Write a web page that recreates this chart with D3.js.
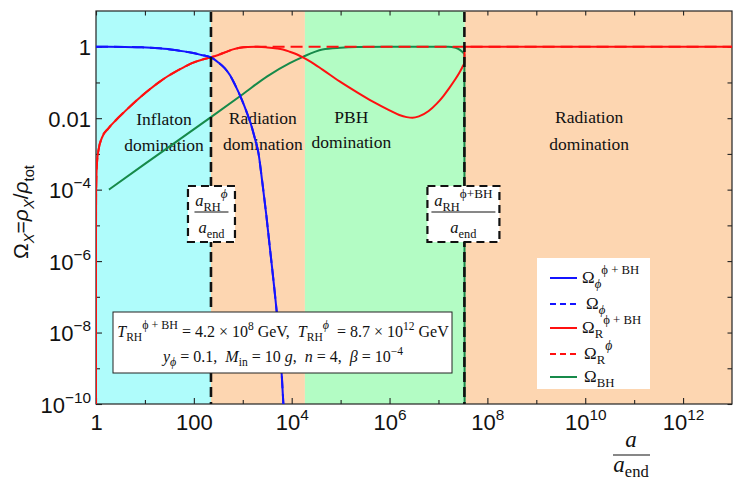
<!DOCTYPE html>
<html>
<head>
<meta charset="utf-8">
<script src="https://cdn.jsdelivr.net/npm/d3@7"></script>
<style>
  body { margin: 0; background: #fff; }
  svg { display: block; }
  text { white-space: pre; }
</style>
</head>
<body>
<svg id="chart" width="737" height="483"></svg>
<script>
// ---------------- data: log10(a/a_end) and log10(Ω) ----------------
// Ω_φ with PBHs (solid blue) and without (dashed blue)
const omegaPhiBH_loga = [0, 0.59, 0.94, 1.29, 1.61, 1.8, 1.96, 2.15, 2.35, 2.5, 2.63, 2.74, 2.84, 2.98, 3.08, 3.18, 3.25, 3.32, 3.40, 3.48, 3.56, 3.64, 3.72, 3.78, 3.83, 3.86];
const omegaPhiBH_log  = [0, -0.006, -0.018, -0.046, -0.09, -0.13, -0.17, -0.23, -0.30, -0.44, -0.60, -0.80, -1.06, -1.48, -1.83, -2.23, -2.58, -2.97, -3.8, -4.7, -5.7, -6.7, -7.8, -8.8, -10.0, -10.8];
const omegaPhi_loga = omegaPhiBH_loga;
const omegaPhi_log  = omegaPhiBH_log;

// Ω_R with PBHs (solid red)
const omegaRBH_loga = [0, 0.00001, 0.0002, 0.002, 0.02, 0.05, 0.12, 0.25, 0.4, 0.59, 0.8, 0.94, 1.1, 1.29, 1.45, 1.61, 1.8, 1.96, 2.15, 2.35, 2.5, 2.65, 2.8, 2.94, 3.1, 3.3, 3.5, 3.7, 3.82, 3.96, 4.1, 4.22, 4.4, 4.63, 4.98, 5.33, 5.65, 6.0, 6.2, 6.35, 6.47, 6.6, 6.8, 6.96, 7.1, 7.22, 7.33, 7.43, 7.5, 7.53, 7.535, 13];
const omegaRBH_log  = [-11, -7.5, -5.0, -4.1, -3.25, -2.9, -2.55, -2.29, -2.065, -1.81, -1.54, -1.37, -1.19, -0.99, -0.84, -0.71, -0.57, -0.46, -0.37, -0.295, -0.23, -0.15, -0.075, -0.03, -0.008, -0.003, -0.02, -0.05, -0.08, -0.14, -0.21, -0.29, -0.43, -0.64, -0.97, -1.27, -1.53, -1.78, -1.91, -1.97, -1.99, -1.95, -1.80, -1.60, -1.38, -1.16, -0.94, -0.72, -0.54, -0.44, 0, 0];

// Ω_R without PBHs (dashed red)
const omegaR_loga = [0, 0.00001, 0.0002, 0.002, 0.02, 0.05, 0.12, 0.25, 0.4, 0.59, 0.8, 0.94, 1.1, 1.29, 1.45, 1.61, 1.8, 1.96, 2.15, 2.35, 2.5, 2.65, 2.8, 2.94, 3.1, 3.3, 13];
const omegaR_log  = [-11, -7.5, -5.0, -4.1, -3.25, -2.9, -2.55, -2.29, -2.065, -1.81, -1.54, -1.37, -1.19, -0.99, -0.84, -0.71, -0.57, -0.46, -0.37, -0.295, -0.23, -0.15, -0.075, -0.03, -0.008, 0, 0];

// Ω_BH (green)
const omegaBH_loga = [0.265, 1.0, 2.35, 3.0, 3.5, 3.96, 4.22, 4.63, 5.0, 5.33, 6.0, 7.2, 7.35, 7.43, 7.5, 7.53, 7.535];
const omegaBH_log  = [-4, -3.28, -1.97, -1.33, -0.83, -0.46, -0.29, -0.08, -0.03, -0.01, 0, -0.002, -0.03, -0.08, -0.16, -0.22, -10.5];

// epochs (log10 a boundaries) and reheating markers
const eraStart = [0, 2.35, 4.27, 7.54];
const eraEnd   = [2.35, 4.27, 7.54, 13];
const eraTitles = [["Inflaton", "domination"], ["Radiation", "domination"], ["PBH", "domination"], ["Radiation", "domination"]];
const reheatExp = [2.35, 7.53];

// axis ticks
const xLabelExps = [0, 2, 4, 6, 8, 10, 12];
const xLabels = [["1"], ["100"], ["10", "4"], ["10", "6"], ["10", "8"], ["10", "10"], ["10", "12"]];
const xMinorExps = [1, 3, 5, 7, 9, 11];
const yLabelExps = [0, -2, -4, -6, -8, -10];
const yLabels = [["1"], ["0.01"], ["10", "\u22124"], ["10", "\u22126"], ["10", "\u22128"], ["10", "\u221210"]];
const yMinorExps = [-1, -3, -5, -7, -9];

// ---------------- layout ----------------
const X0 = 96, X1 = 732, Y0 = 11, Y1 = 404;
const SERIF = "'Liberation Serif','Times New Roman',serif";
const SANS = "'Liberation Sans',Arial,sans-serif";
const eraColors = ["#affcfb", "#fdd6b1", "#b3fcc4", "#fdd6b1"];
const C = { blue: "#1414ff", red: "#ff1010", green: "#168a4a", ink: "#111" };

const P = e => Math.pow(10, e);
const x = d3.scaleLog().domain([1, 1e13]).range([X0, X1]);
const y = d3.scaleLog().domain([1e-10, 1e1]).range([Y1, Y0]);

const svg = d3.select("#chart");
svg.append("defs").append("clipPath").attr("id", "plotClip")
  .append("rect").attr("x", X0).attr("y", Y0).attr("width", X1 - X0).attr("height", Y1 - Y0);

// rich text: segments [text, {i, pos:'sub'|'sup', d, k}]
function rich(textSel, segs, size) {
  let shift = 0;
  segs.forEach(seg => {
    const t = seg[0], o = seg[1] || {};
    const k = o.pos ? (o.k || 0.7) : 1;
    const target = o.pos === "sub" ? size * (o.d ?? 0.28) : o.pos === "sup" ? -size * (o.d ?? 0.42) : 0;
    const ts = textSel.append("tspan").text(t).attr("font-size", size * k);
    if (target - shift !== 0) ts.attr("dy", target - shift);
    if (o.i) ts.attr("font-style", "italic");
    shift = target;
  });
  return textSel;
}

// ---------------- background epochs ----------------
const eras = eraStart.map((s, i) => ({ s, e: eraEnd[i], c: eraColors[i], t: eraTitles[i] }));
svg.append("g").attr("clip-path", "url(#plotClip)")
  .selectAll("rect").data(eras).join("rect")
  .attr("x", d => x(P(d.s))).attr("width", d => x(P(d.e)) - x(P(d.s)))
  .attr("y", Y0).attr("height", Y1 - Y0).attr("fill", d => d.c);

// epoch titles
const eraTitleX = [1.39, 3.41, 5.22, 10.08];
const eraTitleY = [[125, 151], [124, 150], [123, 148], [123, 150]];
eras.forEach((d, i) => {
  d.t.forEach((line, j) => {
    svg.append("text").attr("x", x(P(eraTitleX[i]))).attr("y", eraTitleY[i][j])
      .attr("text-anchor", "middle").attr("font-family", SERIF).attr("font-size", 17.5)
      .attr("fill", "#111").text(line);
  });
});

// ---------------- frame and ticks ----------------
svg.append("rect").attr("x", X0).attr("y", Y0).attr("width", X1 - X0).attr("height", Y1 - Y0)
  .attr("fill", "none").attr("stroke", "#222").attr("stroke-width", 1.2);

function ticks(axis, values, size, tx) {
  const g = svg.append("g").attr("transform", tx)
    .call(axis.tickValues(values).tickSizeInner(-size).tickSizeOuter(0).tickFormat(() => ""));
  g.select(".domain").remove();
  g.selectAll(".tick line").attr("stroke", "#222").attr("stroke-width", 1.1);
  g.selectAll(".tick text").remove();
  return g;
}
const xMaj = ticks(d3.axisBottom(x), xLabelExps.map(P), 6, `translate(0,${Y1})`);
ticks(d3.axisBottom(x), xMinorExps.map(P), 4, `translate(0,${Y1})`);
ticks(d3.axisTop(x), xLabelExps.concat(xMinorExps).map(P), 4.5, `translate(0,${Y0})`);
const yMaj = ticks(d3.axisLeft(y), yLabelExps.map(P), 6, `translate(${X0},0)`);
ticks(d3.axisLeft(y), yMinorExps.map(P), 4, `translate(${X0},0)`);
ticks(d3.axisRight(y), yLabelExps.concat(yMinorExps).map(P), 4.5, `translate(${X1},0)`);

const TICK_FS = 22;
xMaj.selectAll(".tick").each(function (d, i) {
  const lab = xLabels[i];
  const t = d3.select(this).append("text").attr("y", 26).attr("text-anchor", "middle")
    .attr("font-family", SANS).attr("fill", "#111");
  rich(t, lab.length > 1 ? [[lab[0]], [lab[1], { pos: "sup", d: 0.45 }]] : [[lab[0]]], TICK_FS);
});
yMaj.selectAll(".tick").each(function (d, i) {
  const lab = yLabels[i];
  const t = d3.select(this).append("text").attr("x", -5).attr("y", 8).attr("text-anchor", "end")
    .attr("font-family", SANS).attr("fill", "#111");
  rich(t, lab.length > 1 ? [[lab[0]], [lab[1], { pos: "sup", d: 0.45 }]] : [[lab[0]]], TICK_FS);
});

// ---------------- curves ----------------
const line = d3.line().x(d => x(P(d[0]))).y(d => y(P(d[1]))).curve(d3.curveMonotoneX);
const pts = (a, o) => a.map((v, i) => [v, o[i]]);
const series = [
  { a: omegaBH_loga, o: omegaBH_log, c: C.green, dash: null },
  { a: omegaRBH_loga, o: omegaRBH_log, c: C.red, dash: null },
  { a: omegaR_loga, o: omegaR_log, c: C.red, dash: "12,6" },
  { a: omegaPhiBH_loga, o: omegaPhiBH_log, c: C.blue, dash: null },
  { a: omegaPhi_loga, o: omegaPhi_log, c: C.blue, dash: "12,6" }
];
const curveG = svg.append("g").attr("clip-path", "url(#plotClip)");
series.forEach(s => {
  curveG.append("path").attr("d", line(pts(s.a, s.o))).attr("fill", "none")
    .attr("stroke", s.c).attr("stroke-width", 2).attr("stroke-dasharray", s.dash)
    .attr("stroke-linejoin", "round");
});

// reheating markers
reheatExp.forEach(e => {
  svg.append("line").attr("x1", x(P(e))).attr("x2", x(P(e))).attr("y1", Y0 + 1).attr("y2", Y1)
    .attr("stroke", C.ink).attr("stroke-width", 2.6).attr("stroke-dasharray", "10,5");
});

// fraction boxes at the reheating scales
function fracBox(e, w, numSegs, lineW) {
  const cx = x(P(e)) + 0.5;
  svg.append("rect").attr("x", cx - w / 2).attr("y", 186).attr("width", w).attr("height", 56)
    .attr("fill", "#fff").attr("stroke", C.ink).attr("stroke-width", 2.2).attr("stroke-dasharray", "8,5");
  rich(svg.append("text").attr("x", cx).attr("y", 206).attr("text-anchor", "middle")
    .attr("font-family", SERIF).attr("fill", "#111"), numSegs, 16.5);
  svg.append("line").attr("x1", cx - lineW / 2).attr("x2", cx + lineW / 2).attr("y1", 212).attr("y2", 212)
    .attr("stroke", "#111").attr("stroke-width", 1);
  rich(svg.append("text").attr("x", cx).attr("y", 233).attr("text-anchor", "middle")
    .attr("font-family", SERIF).attr("fill", "#111"), [["a", { i: true }], ["end", { pos: "sub", k: 0.75 }]], 16.5);
}
fracBox(reheatExp[0], 47, [["a", { i: true }], ["RH", { pos: "sub", k: 0.75 }], ["\u03d5", { pos: "sup", i: true, d: 0.5, k: 0.8 }]], 34);
fracBox(reheatExp[1] - 0.03, 72, [["a", { i: true }], ["RH", { pos: "sub", k: 0.75 }], ["\u03d5+BH", { pos: "sup", d: 0.5, k: 0.8 }]], 64);

// parameter box
svg.append("rect").attr("x", 113).attr("y", 312).attr("width", 339).attr("height", 61)
  .attr("fill", "#fff").attr("stroke", "#222").attr("stroke-width", 1);
rich(svg.append("text").attr("x", 283).attr("y", 337).attr("text-anchor", "middle")
  .attr("font-family", SERIF).attr("fill", "#111"), [
  ["T", { i: true }], ["RH", { pos: "sub", k: 0.72 }], ["\u03d5 + BH", { pos: "sup", d: 0.5, k: 0.75 }],
  [" = 4.2 \u00d7 10"], ["8", { pos: "sup", k: 0.72 }], [" GeV,  "],
  ["T", { i: true }], ["RH", { pos: "sub", k: 0.72 }], ["\u03d5", { pos: "sup", i: true, d: 0.5, k: 0.75 }],
  ["  = 8.7 \u00d7 10"], ["12", { pos: "sup", k: 0.72 }], [" GeV"]
], 16);
rich(svg.append("text").attr("x", 283).attr("y", 362).attr("text-anchor", "middle")
  .attr("font-family", SERIF).attr("fill", "#111"), [
  ["y", { i: true }], ["\u03d5", { pos: "sub", i: true, k: 0.75 }], [" = 0.1,  "],
  ["M", { i: true }], ["in", { pos: "sub", k: 0.72 }], [" = 10 "], ["g", { i: true }], [",  "],
  ["n", { i: true }], [" = 4,  "], ["\u03b2", { i: true }], [" = 10"], ["\u22124", { pos: "sup", k: 0.72 }]
], 16);

// legend
const legendItems = [
  { c: C.blue, dash: null, segs: [["\u03a9"], ["\u03d5", { pos: "sub", i: true, k: 0.75 }], ["\u03d5 + BH", { pos: "sup", d: 0.55, k: 0.75 }]] },
  { c: C.blue, dash: "6,4", segs: [["\u03a9"], ["\u03d5", { pos: "sub", i: true, k: 0.75 }]], dx: 4 },
  { c: C.red, dash: null, segs: [["\u03a9"], ["R", { pos: "sub", k: 0.75 }], ["\u03d5 + BH", { pos: "sup", d: 0.55, k: 0.75 }]] },
  { c: C.red, dash: "6,4", segs: [["\u03a9"], ["R", { pos: "sub", k: 0.75 }], ["\u03d5", { pos: "sup", i: true, d: 0.55, k: 0.8 }]], dx: 2 },
  { c: C.green, dash: null, segs: [["\u03a9"], ["BH", { pos: "sub", k: 0.75 }]], dx: 2 }
];
const legendY = [278, 304, 328, 354, 377];
svg.append("rect").attr("x", 537).attr("y", 258).attr("width", 113).attr("height", 131).attr("fill", "#fff");
legendItems.forEach((it, i) => {
  const ly = legendY[i];
  svg.append("line").attr("x1", 550).attr("x2", 577).attr("y1", ly).attr("y2", ly)
    .attr("stroke", it.c).attr("stroke-width", 2).attr("stroke-dasharray", it.dash);
  rich(svg.append("text").attr("x", 582 + (it.dx || 0)).attr("y", ly + 5)
    .attr("font-family", SERIF).attr("fill", "#111"), it.segs, 17);
});

// axis titles
rich(svg.append("text").attr("transform", "translate(28,212) rotate(-90)").attr("text-anchor", "middle")
  .attr("font-family", SANS).attr("fill", "#111"), [
  ["\u03a9"], ["X", { pos: "sub", i: true }], ["="], ["\u03c1", { i: true }], ["X", { pos: "sub", i: true }],
  ["/"], ["\u03c1", { i: true }], ["tot", { pos: "sub" }]
], 21);

svg.append("text").attr("x", 631).attr("y", 447).attr("text-anchor", "middle")
  .attr("font-family", SERIF).attr("font-style", "italic").attr("font-size", 23).attr("fill", "#111").text("a");
svg.append("line").attr("x1", 613).attr("x2", 650).attr("y1", 455).attr("y2", 455)
  .attr("stroke", "#111").attr("stroke-width", 1.2);
rich(svg.append("text").attr("x", 631).attr("y", 472).attr("text-anchor", "middle")
  .attr("font-family", SERIF).attr("fill", "#111"), [["a", { i: true }], ["end", { pos: "sub", d: 0.2, k: 0.72 }]], 23);
</script>
</body>
</html>
